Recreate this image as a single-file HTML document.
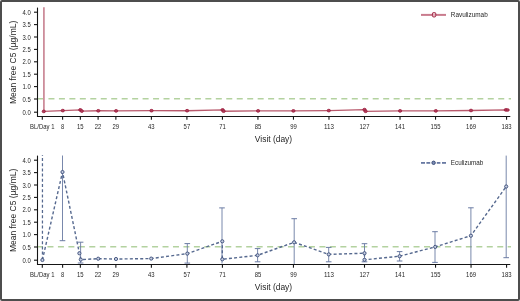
<!DOCTYPE html>
<html><head><meta charset="utf-8"><title>Mean free C5</title>
<style>html,body{margin:0;padding:0;background:#fff;width:520px;height:301px;overflow:hidden}
svg text{font-family:"Liberation Sans", sans-serif}</style></head>
<body>
<div style="will-change:transform;width:520px;height:301px">
<svg width="520" height="301" viewBox="0 0 520 301" style="display:block" font-family="'Liberation Sans', sans-serif">
<rect x="0" y="0" width="520" height="301" fill="#ffffff"/>
<line x1="37.5" y1="7.6" x2="37.5" y2="117" stroke="#151515" stroke-width="1.1"/>
<line x1="37" y1="116.5" x2="510.3" y2="116.5" stroke="#151515" stroke-width="1.1"/>
<line x1="34" y1="12.2" x2="37.5" y2="12.2" stroke="#151515" stroke-width="1.1"/>
<text x="30.8" y="14.7" text-anchor="end" font-size="7" fill="#1f1f1f" textLength="8.2" lengthAdjust="spacingAndGlyphs">4.0</text>
<line x1="34" y1="24.6" x2="37.5" y2="24.6" stroke="#151515" stroke-width="1.1"/>
<text x="30.8" y="27.1" text-anchor="end" font-size="7" fill="#1f1f1f" textLength="8.2" lengthAdjust="spacingAndGlyphs">3.5</text>
<line x1="34" y1="37.0" x2="37.5" y2="37.0" stroke="#151515" stroke-width="1.1"/>
<text x="30.8" y="39.5" text-anchor="end" font-size="7" fill="#1f1f1f" textLength="8.2" lengthAdjust="spacingAndGlyphs">3.0</text>
<line x1="34" y1="49.4" x2="37.5" y2="49.4" stroke="#151515" stroke-width="1.1"/>
<text x="30.8" y="51.9" text-anchor="end" font-size="7" fill="#1f1f1f" textLength="8.2" lengthAdjust="spacingAndGlyphs">2.5</text>
<line x1="34" y1="61.8" x2="37.5" y2="61.8" stroke="#151515" stroke-width="1.1"/>
<text x="30.8" y="64.3" text-anchor="end" font-size="7" fill="#1f1f1f" textLength="8.2" lengthAdjust="spacingAndGlyphs">2.0</text>
<line x1="34" y1="74.2" x2="37.5" y2="74.2" stroke="#151515" stroke-width="1.1"/>
<text x="30.8" y="76.7" text-anchor="end" font-size="7" fill="#1f1f1f" textLength="8.2" lengthAdjust="spacingAndGlyphs">1.5</text>
<line x1="34" y1="86.6" x2="37.5" y2="86.6" stroke="#151515" stroke-width="1.1"/>
<text x="30.8" y="89.1" text-anchor="end" font-size="7" fill="#1f1f1f" textLength="8.2" lengthAdjust="spacingAndGlyphs">1.0</text>
<line x1="34" y1="99.0" x2="37.5" y2="99.0" stroke="#151515" stroke-width="1.1"/>
<text x="30.8" y="101.5" text-anchor="end" font-size="7" fill="#1f1f1f" textLength="8.2" lengthAdjust="spacingAndGlyphs">0.5</text>
<line x1="34" y1="112.2" x2="37.5" y2="112.2" stroke="#151515" stroke-width="1.1"/>
<text x="30.8" y="114.7" text-anchor="end" font-size="7" fill="#1f1f1f" textLength="8.2" lengthAdjust="spacingAndGlyphs">0.0</text>
<line x1="42.30" y1="116.5" x2="42.30" y2="119.7" stroke="#151515" stroke-width="1.1"/>
<text x="42.30" y="128.7" text-anchor="middle" font-size="7.1" fill="#1f1f1f" textLength="24.4" lengthAdjust="spacingAndGlyphs">BL/Day 1</text>
<line x1="62.60" y1="116.5" x2="62.60" y2="119.7" stroke="#151515" stroke-width="1.1"/>
<text x="62.60" y="128.7" text-anchor="middle" font-size="7.4" fill="#1f1f1f" textLength="3.2" lengthAdjust="spacingAndGlyphs">8</text>
<line x1="80.35" y1="116.5" x2="80.35" y2="119.7" stroke="#151515" stroke-width="1.1"/>
<text x="80.35" y="128.7" text-anchor="middle" font-size="7.4" fill="#1f1f1f" textLength="6.6" lengthAdjust="spacingAndGlyphs">15</text>
<line x1="98.11" y1="116.5" x2="98.11" y2="119.7" stroke="#151515" stroke-width="1.1"/>
<text x="98.11" y="128.7" text-anchor="middle" font-size="7.4" fill="#1f1f1f" textLength="6.6" lengthAdjust="spacingAndGlyphs">22</text>
<line x1="115.87" y1="116.5" x2="115.87" y2="119.7" stroke="#151515" stroke-width="1.1"/>
<text x="115.87" y="128.7" text-anchor="middle" font-size="7.4" fill="#1f1f1f" textLength="6.6" lengthAdjust="spacingAndGlyphs">29</text>
<line x1="151.39" y1="116.5" x2="151.39" y2="119.7" stroke="#151515" stroke-width="1.1"/>
<text x="151.39" y="128.7" text-anchor="middle" font-size="7.4" fill="#1f1f1f" textLength="6.6" lengthAdjust="spacingAndGlyphs">43</text>
<line x1="186.91" y1="116.5" x2="186.91" y2="119.7" stroke="#151515" stroke-width="1.1"/>
<text x="186.91" y="128.7" text-anchor="middle" font-size="7.4" fill="#1f1f1f" textLength="6.6" lengthAdjust="spacingAndGlyphs">57</text>
<line x1="222.43" y1="116.5" x2="222.43" y2="119.7" stroke="#151515" stroke-width="1.1"/>
<text x="222.43" y="128.7" text-anchor="middle" font-size="7.4" fill="#1f1f1f" textLength="6.6" lengthAdjust="spacingAndGlyphs">71</text>
<line x1="257.94" y1="116.5" x2="257.94" y2="119.7" stroke="#151515" stroke-width="1.1"/>
<text x="257.94" y="128.7" text-anchor="middle" font-size="7.4" fill="#1f1f1f" textLength="6.6" lengthAdjust="spacingAndGlyphs">85</text>
<line x1="293.46" y1="116.5" x2="293.46" y2="119.7" stroke="#151515" stroke-width="1.1"/>
<text x="293.46" y="128.7" text-anchor="middle" font-size="7.4" fill="#1f1f1f" textLength="6.6" lengthAdjust="spacingAndGlyphs">99</text>
<line x1="328.98" y1="116.5" x2="328.98" y2="119.7" stroke="#151515" stroke-width="1.1"/>
<text x="328.98" y="128.7" text-anchor="middle" font-size="7.4" fill="#1f1f1f" textLength="9.9" lengthAdjust="spacingAndGlyphs">113</text>
<line x1="364.50" y1="116.5" x2="364.50" y2="119.7" stroke="#151515" stroke-width="1.1"/>
<text x="364.50" y="128.7" text-anchor="middle" font-size="7.4" fill="#1f1f1f" textLength="9.9" lengthAdjust="spacingAndGlyphs">127</text>
<line x1="400.02" y1="116.5" x2="400.02" y2="119.7" stroke="#151515" stroke-width="1.1"/>
<text x="400.02" y="128.7" text-anchor="middle" font-size="7.4" fill="#1f1f1f" textLength="9.9" lengthAdjust="spacingAndGlyphs">141</text>
<line x1="435.54" y1="116.5" x2="435.54" y2="119.7" stroke="#151515" stroke-width="1.1"/>
<text x="435.54" y="128.7" text-anchor="middle" font-size="7.4" fill="#1f1f1f" textLength="9.9" lengthAdjust="spacingAndGlyphs">155</text>
<line x1="471.05" y1="116.5" x2="471.05" y2="119.7" stroke="#151515" stroke-width="1.1"/>
<text x="471.05" y="128.7" text-anchor="middle" font-size="7.4" fill="#1f1f1f" textLength="9.9" lengthAdjust="spacingAndGlyphs">169</text>
<line x1="506.57" y1="116.5" x2="506.57" y2="119.7" stroke="#151515" stroke-width="1.1"/>
<text x="506.57" y="128.7" text-anchor="middle" font-size="7.4" fill="#1f1f1f" textLength="9.9" lengthAdjust="spacingAndGlyphs">183</text>
<text x="273.5" y="141.6" text-anchor="middle" font-size="9.4" fill="#1f1f1f" textLength="37.3" lengthAdjust="spacingAndGlyphs">Visit (day)</text>
<text transform="translate(15.8,104) rotate(-90)" x="0" y="0" font-size="9.4" fill="#1f1f1f" textLength="83.3" lengthAdjust="spacingAndGlyphs">Mean free C5 (µg/mL)</text>
<line x1="38" y1="98.8" x2="511" y2="98.8" stroke="#b3d29f" stroke-width="1.5" stroke-dasharray="6 4.46" stroke-dashoffset="0"/>
<line x1="43.9" y1="7.2" x2="43.9" y2="111.4" stroke="#cd8d9b" stroke-width="1.8"/>
<path d="M43.8,111.4 L62.8,110.6 L80.3,109.9 L81.8,111.1 L98.3,110.8 L116.1,110.9 L151.5,110.7 L187.1,110.7 L222.6,109.9 L223.6,111.2 L258.1,110.9 L293.4,110.9 L328.8,110.6 L364.5,109.6 L365.6,111.3 L400.1,110.9 L435.8,110.9 L471.0,110.5 L505.8,109.9 L507.6,110.0" fill="none" stroke="#b8596c" stroke-width="1.35"/>
<ellipse cx="43.8" cy="111.4" rx="1.65" ry="1.35" fill="#b03d5a" stroke="#9c1c3c" stroke-width="0.8"/>
<ellipse cx="62.8" cy="110.6" rx="1.65" ry="1.35" fill="#b03d5a" stroke="#9c1c3c" stroke-width="0.8"/>
<ellipse cx="80.3" cy="109.9" rx="1.65" ry="1.35" fill="#b03d5a" stroke="#9c1c3c" stroke-width="0.8"/>
<ellipse cx="81.8" cy="111.1" rx="1.65" ry="1.35" fill="#b03d5a" stroke="#9c1c3c" stroke-width="0.8"/>
<ellipse cx="98.3" cy="110.8" rx="1.65" ry="1.35" fill="#b03d5a" stroke="#9c1c3c" stroke-width="0.8"/>
<ellipse cx="116.1" cy="110.9" rx="1.65" ry="1.35" fill="#b03d5a" stroke="#9c1c3c" stroke-width="0.8"/>
<ellipse cx="151.5" cy="110.7" rx="1.65" ry="1.35" fill="#b03d5a" stroke="#9c1c3c" stroke-width="0.8"/>
<ellipse cx="187.1" cy="110.7" rx="1.65" ry="1.35" fill="#b03d5a" stroke="#9c1c3c" stroke-width="0.8"/>
<ellipse cx="222.6" cy="109.9" rx="1.65" ry="1.35" fill="#b03d5a" stroke="#9c1c3c" stroke-width="0.8"/>
<ellipse cx="223.6" cy="111.2" rx="1.65" ry="1.35" fill="#b03d5a" stroke="#9c1c3c" stroke-width="0.8"/>
<ellipse cx="258.1" cy="110.9" rx="1.65" ry="1.35" fill="#b03d5a" stroke="#9c1c3c" stroke-width="0.8"/>
<ellipse cx="293.4" cy="110.9" rx="1.65" ry="1.35" fill="#b03d5a" stroke="#9c1c3c" stroke-width="0.8"/>
<ellipse cx="328.8" cy="110.6" rx="1.65" ry="1.35" fill="#b03d5a" stroke="#9c1c3c" stroke-width="0.8"/>
<ellipse cx="364.5" cy="109.6" rx="1.65" ry="1.35" fill="#b03d5a" stroke="#9c1c3c" stroke-width="0.8"/>
<ellipse cx="365.6" cy="111.3" rx="1.65" ry="1.35" fill="#b03d5a" stroke="#9c1c3c" stroke-width="0.8"/>
<ellipse cx="400.1" cy="110.9" rx="1.65" ry="1.35" fill="#b03d5a" stroke="#9c1c3c" stroke-width="0.8"/>
<ellipse cx="435.8" cy="110.9" rx="1.65" ry="1.35" fill="#b03d5a" stroke="#9c1c3c" stroke-width="0.8"/>
<ellipse cx="471.0" cy="110.5" rx="1.65" ry="1.35" fill="#b03d5a" stroke="#9c1c3c" stroke-width="0.8"/>
<ellipse cx="505.8" cy="109.9" rx="1.65" ry="1.35" fill="#b03d5a" stroke="#9c1c3c" stroke-width="0.8"/>
<ellipse cx="507.6" cy="110.0" rx="1.65" ry="1.35" fill="#b03d5a" stroke="#9c1c3c" stroke-width="0.8"/>
<line x1="421" y1="14.9" x2="446" y2="14.9" stroke="#c97b8d" stroke-width="2"/>
<rect x="432.4" y="12.5" width="3.4" height="4.5" rx="1.3" fill="#e3b3bd" stroke="#9c1c3c" stroke-width="0.9"/>
<text x="450.8" y="17.3" font-size="7.7" fill="#1f1f1f" textLength="36.9" lengthAdjust="spacingAndGlyphs">Ravulizumab</text>
<line x1="37.5" y1="155.6" x2="37.5" y2="265" stroke="#151515" stroke-width="1.1"/>
<line x1="37" y1="264.5" x2="510.3" y2="264.5" stroke="#151515" stroke-width="1.1"/>
<line x1="34" y1="160.2" x2="37.5" y2="160.2" stroke="#151515" stroke-width="1.1"/>
<text x="30.8" y="162.7" text-anchor="end" font-size="7" fill="#1f1f1f" textLength="8.2" lengthAdjust="spacingAndGlyphs">4.0</text>
<line x1="34" y1="172.6" x2="37.5" y2="172.6" stroke="#151515" stroke-width="1.1"/>
<text x="30.8" y="175.1" text-anchor="end" font-size="7" fill="#1f1f1f" textLength="8.2" lengthAdjust="spacingAndGlyphs">3.5</text>
<line x1="34" y1="185.0" x2="37.5" y2="185.0" stroke="#151515" stroke-width="1.1"/>
<text x="30.8" y="187.5" text-anchor="end" font-size="7" fill="#1f1f1f" textLength="8.2" lengthAdjust="spacingAndGlyphs">3.0</text>
<line x1="34" y1="197.4" x2="37.5" y2="197.4" stroke="#151515" stroke-width="1.1"/>
<text x="30.8" y="199.9" text-anchor="end" font-size="7" fill="#1f1f1f" textLength="8.2" lengthAdjust="spacingAndGlyphs">2.5</text>
<line x1="34" y1="209.8" x2="37.5" y2="209.8" stroke="#151515" stroke-width="1.1"/>
<text x="30.8" y="212.3" text-anchor="end" font-size="7" fill="#1f1f1f" textLength="8.2" lengthAdjust="spacingAndGlyphs">2.0</text>
<line x1="34" y1="222.2" x2="37.5" y2="222.2" stroke="#151515" stroke-width="1.1"/>
<text x="30.8" y="224.7" text-anchor="end" font-size="7" fill="#1f1f1f" textLength="8.2" lengthAdjust="spacingAndGlyphs">1.5</text>
<line x1="34" y1="234.6" x2="37.5" y2="234.6" stroke="#151515" stroke-width="1.1"/>
<text x="30.8" y="237.1" text-anchor="end" font-size="7" fill="#1f1f1f" textLength="8.2" lengthAdjust="spacingAndGlyphs">1.0</text>
<line x1="34" y1="247.0" x2="37.5" y2="247.0" stroke="#151515" stroke-width="1.1"/>
<text x="30.8" y="249.5" text-anchor="end" font-size="7" fill="#1f1f1f" textLength="8.2" lengthAdjust="spacingAndGlyphs">0.5</text>
<line x1="34" y1="260.2" x2="37.5" y2="260.2" stroke="#151515" stroke-width="1.1"/>
<text x="30.8" y="262.7" text-anchor="end" font-size="7" fill="#1f1f1f" textLength="8.2" lengthAdjust="spacingAndGlyphs">0.0</text>
<line x1="42.30" y1="264.5" x2="42.30" y2="267.7" stroke="#151515" stroke-width="1.1"/>
<text x="42.30" y="276.7" text-anchor="middle" font-size="7.1" fill="#1f1f1f" textLength="24.4" lengthAdjust="spacingAndGlyphs">BL/Day 1</text>
<line x1="62.60" y1="264.5" x2="62.60" y2="267.7" stroke="#151515" stroke-width="1.1"/>
<text x="62.60" y="276.7" text-anchor="middle" font-size="7.4" fill="#1f1f1f" textLength="3.2" lengthAdjust="spacingAndGlyphs">8</text>
<line x1="80.35" y1="264.5" x2="80.35" y2="267.7" stroke="#151515" stroke-width="1.1"/>
<text x="80.35" y="276.7" text-anchor="middle" font-size="7.4" fill="#1f1f1f" textLength="6.6" lengthAdjust="spacingAndGlyphs">15</text>
<line x1="98.11" y1="264.5" x2="98.11" y2="267.7" stroke="#151515" stroke-width="1.1"/>
<text x="98.11" y="276.7" text-anchor="middle" font-size="7.4" fill="#1f1f1f" textLength="6.6" lengthAdjust="spacingAndGlyphs">22</text>
<line x1="115.87" y1="264.5" x2="115.87" y2="267.7" stroke="#151515" stroke-width="1.1"/>
<text x="115.87" y="276.7" text-anchor="middle" font-size="7.4" fill="#1f1f1f" textLength="6.6" lengthAdjust="spacingAndGlyphs">29</text>
<line x1="151.39" y1="264.5" x2="151.39" y2="267.7" stroke="#151515" stroke-width="1.1"/>
<text x="151.39" y="276.7" text-anchor="middle" font-size="7.4" fill="#1f1f1f" textLength="6.6" lengthAdjust="spacingAndGlyphs">43</text>
<line x1="186.91" y1="264.5" x2="186.91" y2="267.7" stroke="#151515" stroke-width="1.1"/>
<text x="186.91" y="276.7" text-anchor="middle" font-size="7.4" fill="#1f1f1f" textLength="6.6" lengthAdjust="spacingAndGlyphs">57</text>
<line x1="222.43" y1="264.5" x2="222.43" y2="267.7" stroke="#151515" stroke-width="1.1"/>
<text x="222.43" y="276.7" text-anchor="middle" font-size="7.4" fill="#1f1f1f" textLength="6.6" lengthAdjust="spacingAndGlyphs">71</text>
<line x1="257.94" y1="264.5" x2="257.94" y2="267.7" stroke="#151515" stroke-width="1.1"/>
<text x="257.94" y="276.7" text-anchor="middle" font-size="7.4" fill="#1f1f1f" textLength="6.6" lengthAdjust="spacingAndGlyphs">85</text>
<line x1="293.46" y1="264.5" x2="293.46" y2="267.7" stroke="#151515" stroke-width="1.1"/>
<text x="293.46" y="276.7" text-anchor="middle" font-size="7.4" fill="#1f1f1f" textLength="6.6" lengthAdjust="spacingAndGlyphs">99</text>
<line x1="328.98" y1="264.5" x2="328.98" y2="267.7" stroke="#151515" stroke-width="1.1"/>
<text x="328.98" y="276.7" text-anchor="middle" font-size="7.4" fill="#1f1f1f" textLength="9.9" lengthAdjust="spacingAndGlyphs">113</text>
<line x1="364.50" y1="264.5" x2="364.50" y2="267.7" stroke="#151515" stroke-width="1.1"/>
<text x="364.50" y="276.7" text-anchor="middle" font-size="7.4" fill="#1f1f1f" textLength="9.9" lengthAdjust="spacingAndGlyphs">127</text>
<line x1="400.02" y1="264.5" x2="400.02" y2="267.7" stroke="#151515" stroke-width="1.1"/>
<text x="400.02" y="276.7" text-anchor="middle" font-size="7.4" fill="#1f1f1f" textLength="9.9" lengthAdjust="spacingAndGlyphs">141</text>
<line x1="435.54" y1="264.5" x2="435.54" y2="267.7" stroke="#151515" stroke-width="1.1"/>
<text x="435.54" y="276.7" text-anchor="middle" font-size="7.4" fill="#1f1f1f" textLength="9.9" lengthAdjust="spacingAndGlyphs">155</text>
<line x1="471.05" y1="264.5" x2="471.05" y2="267.7" stroke="#151515" stroke-width="1.1"/>
<text x="471.05" y="276.7" text-anchor="middle" font-size="7.4" fill="#1f1f1f" textLength="9.9" lengthAdjust="spacingAndGlyphs">169</text>
<line x1="506.57" y1="264.5" x2="506.57" y2="267.7" stroke="#151515" stroke-width="1.1"/>
<text x="506.57" y="276.7" text-anchor="middle" font-size="7.4" fill="#1f1f1f" textLength="9.9" lengthAdjust="spacingAndGlyphs">183</text>
<text x="273.5" y="289.6" text-anchor="middle" font-size="9.4" fill="#1f1f1f" textLength="37.3" lengthAdjust="spacingAndGlyphs">Visit (day)</text>
<text transform="translate(15.8,252) rotate(-90)" x="0" y="0" font-size="9.4" fill="#1f1f1f" textLength="83.3" lengthAdjust="spacingAndGlyphs">Mean free C5 (µg/mL)</text>
<line x1="38" y1="246.8" x2="511" y2="246.8" stroke="#b3d29f" stroke-width="1.5" stroke-dasharray="6 4.46" stroke-dashoffset="1"/>
<line x1="62.5" y1="155.5" x2="62.5" y2="240.7" stroke="#6a7ba3" stroke-width="0.9"/>
<line x1="59.7" y1="240.7" x2="65.3" y2="240.7" stroke="#6a7ba3" stroke-width="1"/>
<line x1="80.6" y1="242.2" x2="80.6" y2="263.0" stroke="#6a7ba3" stroke-width="0.9"/>
<line x1="77.8" y1="242.2" x2="83.39999999999999" y2="242.2" stroke="#6a7ba3" stroke-width="1"/>
<line x1="77.8" y1="263.0" x2="83.39999999999999" y2="263.0" stroke="#6a7ba3" stroke-width="1"/>
<line x1="187.3" y1="243.6" x2="187.3" y2="263.1" stroke="#6a7ba3" stroke-width="0.9"/>
<line x1="184.5" y1="243.6" x2="190.10000000000002" y2="243.6" stroke="#6a7ba3" stroke-width="1"/>
<line x1="184.5" y1="263.1" x2="190.10000000000002" y2="263.1" stroke="#6a7ba3" stroke-width="1"/>
<line x1="222.0" y1="207.9" x2="222.0" y2="263.5" stroke="#6a7ba3" stroke-width="0.9"/>
<line x1="219.2" y1="207.9" x2="224.8" y2="207.9" stroke="#6a7ba3" stroke-width="1"/>
<line x1="257.6" y1="248.6" x2="257.6" y2="261.8" stroke="#6a7ba3" stroke-width="0.9"/>
<line x1="254.8" y1="248.6" x2="260.40000000000003" y2="248.6" stroke="#6a7ba3" stroke-width="1"/>
<line x1="254.8" y1="261.8" x2="260.40000000000003" y2="261.8" stroke="#6a7ba3" stroke-width="1"/>
<line x1="294.2" y1="218.7" x2="294.2" y2="264" stroke="#6a7ba3" stroke-width="0.9"/>
<line x1="291.4" y1="218.7" x2="297.0" y2="218.7" stroke="#6a7ba3" stroke-width="1"/>
<line x1="328.7" y1="247.4" x2="328.7" y2="261.8" stroke="#6a7ba3" stroke-width="0.9"/>
<line x1="325.9" y1="247.4" x2="331.5" y2="247.4" stroke="#6a7ba3" stroke-width="1"/>
<line x1="325.9" y1="261.8" x2="331.5" y2="261.8" stroke="#6a7ba3" stroke-width="1"/>
<line x1="364.5" y1="243.7" x2="364.5" y2="261.8" stroke="#6a7ba3" stroke-width="0.9"/>
<line x1="361.7" y1="243.7" x2="367.3" y2="243.7" stroke="#6a7ba3" stroke-width="1"/>
<line x1="361.7" y1="261.8" x2="367.3" y2="261.8" stroke="#6a7ba3" stroke-width="1"/>
<line x1="399.6" y1="251.6" x2="399.6" y2="261.0" stroke="#6a7ba3" stroke-width="0.9"/>
<line x1="396.8" y1="251.6" x2="402.40000000000003" y2="251.6" stroke="#6a7ba3" stroke-width="1"/>
<line x1="396.8" y1="261.0" x2="402.40000000000003" y2="261.0" stroke="#6a7ba3" stroke-width="1"/>
<line x1="435.0" y1="231.7" x2="435.0" y2="262.4" stroke="#6a7ba3" stroke-width="0.9"/>
<line x1="432.2" y1="231.7" x2="437.8" y2="231.7" stroke="#6a7ba3" stroke-width="1"/>
<line x1="432.2" y1="262.4" x2="437.8" y2="262.4" stroke="#6a7ba3" stroke-width="1"/>
<line x1="470.9" y1="207.8" x2="470.9" y2="264" stroke="#6a7ba3" stroke-width="0.9"/>
<line x1="468.09999999999997" y1="207.8" x2="473.7" y2="207.8" stroke="#6a7ba3" stroke-width="1"/>
<line x1="506.2" y1="155.6" x2="506.2" y2="257.7" stroke="#6a7ba3" stroke-width="0.9"/>
<line x1="503.4" y1="257.7" x2="509.0" y2="257.7" stroke="#6a7ba3" stroke-width="1"/>
<path d="M42.45,155 L42.45,260" fill="none" stroke="#56698f" stroke-width="1.25" stroke-dasharray="3 2.2" stroke-dashoffset="2.2"/>
<path d="M42.4,260.0 L62.5,172.0 L79.4,253.3 L80.8,259.6 L98.2,258.7 L116.0,259.0 L151.2,258.6 L187.3,253.6 L222.3,241.3 L222.3,259.3 L257.6,255.3 L294.1,242.3 L328.8,254.4 L364.5,253.2 L364.5,259.8 L399.6,256.2 L435.2,246.9 L470.9,235.7 L506.2,186.5" fill="none" stroke="#56698f" stroke-width="1.4" stroke-dasharray="3 2.2"/>
<circle cx="42.4" cy="260.0" r="1.6" fill="#c5cde0" stroke="#3a4c78" stroke-width="0.9"/>
<circle cx="62.5" cy="172.0" r="1.6" fill="#c5cde0" stroke="#3a4c78" stroke-width="0.9"/>
<circle cx="79.4" cy="253.3" r="1.6" fill="#c5cde0" stroke="#3a4c78" stroke-width="0.9"/>
<circle cx="80.8" cy="259.6" r="1.6" fill="#c5cde0" stroke="#3a4c78" stroke-width="0.9"/>
<circle cx="98.2" cy="258.7" r="1.6" fill="#c5cde0" stroke="#3a4c78" stroke-width="0.9"/>
<circle cx="116.0" cy="259.0" r="1.6" fill="#c5cde0" stroke="#3a4c78" stroke-width="0.9"/>
<circle cx="151.2" cy="258.6" r="1.6" fill="#c5cde0" stroke="#3a4c78" stroke-width="0.9"/>
<circle cx="187.3" cy="253.6" r="1.6" fill="#c5cde0" stroke="#3a4c78" stroke-width="0.9"/>
<circle cx="222.3" cy="241.3" r="1.6" fill="#c5cde0" stroke="#3a4c78" stroke-width="0.9"/>
<circle cx="222.3" cy="259.3" r="1.6" fill="#c5cde0" stroke="#3a4c78" stroke-width="0.9"/>
<circle cx="257.6" cy="255.3" r="1.6" fill="#c5cde0" stroke="#3a4c78" stroke-width="0.9"/>
<circle cx="294.1" cy="242.3" r="1.6" fill="#c5cde0" stroke="#3a4c78" stroke-width="0.9"/>
<circle cx="328.8" cy="254.4" r="1.6" fill="#c5cde0" stroke="#3a4c78" stroke-width="0.9"/>
<circle cx="364.5" cy="253.2" r="1.6" fill="#c5cde0" stroke="#3a4c78" stroke-width="0.9"/>
<circle cx="364.5" cy="259.8" r="1.6" fill="#c5cde0" stroke="#3a4c78" stroke-width="0.9"/>
<circle cx="399.6" cy="256.2" r="1.6" fill="#c5cde0" stroke="#3a4c78" stroke-width="0.9"/>
<circle cx="435.2" cy="246.9" r="1.6" fill="#c5cde0" stroke="#3a4c78" stroke-width="0.9"/>
<circle cx="470.9" cy="235.7" r="1.6" fill="#c5cde0" stroke="#3a4c78" stroke-width="0.9"/>
<circle cx="506.2" cy="186.5" r="1.6" fill="#c5cde0" stroke="#3a4c78" stroke-width="0.9"/>
<line x1="421" y1="162.9" x2="425" y2="162.9" stroke="#6879a2" stroke-width="1.8"/>
<line x1="426.4" y1="162.9" x2="430.2" y2="162.9" stroke="#6879a2" stroke-width="1.8"/>
<line x1="436.8" y1="162.9" x2="440.4" y2="162.9" stroke="#6879a2" stroke-width="1.8"/>
<line x1="442" y1="162.9" x2="446" y2="162.9" stroke="#6879a2" stroke-width="1.8"/>
<circle cx="433.6" cy="162.8" r="1.7" fill="#7d8db5" stroke="#3a4c78" stroke-width="1"/>
<text x="450.8" y="164.8" font-size="7.7" fill="#1f1f1f" textLength="32.5" lengthAdjust="spacingAndGlyphs">Eculizumab</text>
<rect x="1" y="1" width="518" height="299" rx="1" fill="none" stroke="#4d4d4d" stroke-width="2"/>
</svg>
</div>
</body></html>
